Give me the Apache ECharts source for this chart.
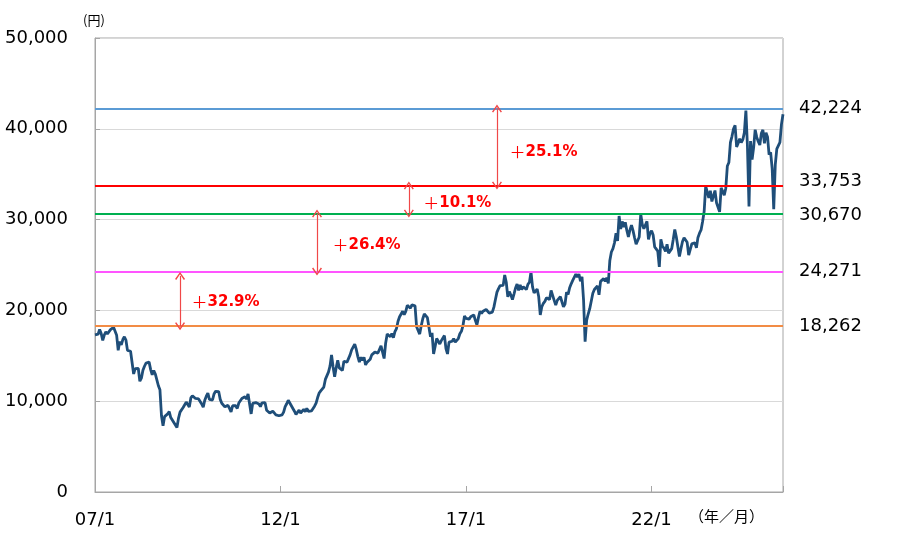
<!DOCTYPE html>
<html><head><meta charset="utf-8">
<script src="https://cdn.jsdelivr.net/npm/echarts@6/dist/echarts.min.js"></script>
<style>html,body{margin:0;padding:0;background:#fff}#c{width:900px;height:549px}</style>
</head><body><div id="c"></div>
<script>
// X axis: months since 2007/1 ; tick labels
const xTickLabels = {0: '07/1', 60: '12/1', 120: '17/1', 180: '22/1'};
const xUnit = '（年／月）';
const yUnit = '(円)';

// Nikkei-style index, semimonthly samples (16th, then 1st of next month)
const startValue = [17300];
const v2007 = [17400,17380,17900,17450,16700,17290,17650,17400,17600,17880,18000,18140,18230,17250,15600,16570,16200,16790,17100,16740,15600,15680,15500,15310];
const v2008 = [13000,13590,13600,13600,12200,12530,13400,13850,14200,14340,14300,13480,12900,13380,13000,13070,11700,11260,8400,7300,8300,8510,8600,8860];
const v2009 = [8200,7990,7650,7570,7100,8110,8800,8830,9300,9520,9900,9960,9350,10360,10600,10490,10300,10130,10250,10030,9700,9350,10100,10550];
const v2010 = [10900,10200,10000,10130,10800,11090,11200,11060,10200,9770,9900,9380,9400,9540,9200,8820,9500,9370,9500,9200,9800,9940,10300,10230];
const v2011 = [10500,10240,10800,10620,8600,9760,9600,9850,9650,9690,9400,9820,10000,9830,9000,8960,8700,8700,8900,8990,8500,8430,8400,8460];
const v2012 = [8500,8800,9400,9720,10100,10080,9500,9520,8900,8540,8600,9010,8700,8700,9100,8840,9200,8870,8700,8930,9100,9450,9800,10400];
const v2013 = [10900,11140,11300,11560,12400,12400,13200,13860,15100,13770,12700,13680,14500,13670,13700,13390,14400,14460,14300,14330,15100,15660,15800,16290];
const v2014 = [15700,14910,14300,14840,14500,14830,14000,14300,14100,14630,15100,15160,15400,15620,15300,15420,16100,16170,14700,16410,17400,17460,17100,17450];
const v2015 = [17000,17670,18000,18800,19300,19210,19900,19520,19900,20560,20600,20240,20600,20590,20500,18200,18100,17390,18300,19080,19600,19750,19200,19030];
const v2016 = [17100,17520,15200,16030,16900,16760,16300,16670,16600,17230,15800,15200,16500,16570,16600,16890,16500,16450,16900,17430,17700,18310,19400,19110];
const v2017 = [19100,19040,19300,19120,19500,18910,18400,19200,19900,19650,19900,20030,20100,19930,19700,19650,19800,20360,21200,22010,22400,22720,22700,22760];
const v2018 = [23900,23100,21500,22070,21700,21200,21800,22470,22900,22200,22800,22300,22600,22550,22300,22870,23100,24245,22600,21920,21800,22350,21500,19500];
const v2019 = [20400,20770,21000,21390,21500,21210,22200,22260,21100,20600,21100,21280,21500,21520,20400,20700,22000,21760,22500,22930,23300,23290,24000,23660];
const v2020 = [24000,23210,23700,21140,16550,18920,19600,20190,20100,21880,22300,22290,22700,21710,23200,23140,23500,23190,23600,22980,25500,26430,26800,27440];
const v2021 = [28500,27660,30400,28970,29800,29180,29700,28810,28100,28860,29400,28790,28000,27280,27500,28090,30600,29450,29000,28890,29800,27820,28500,28790];
const v2022 = [28300,27000,27100,26530,24800,27820,27100,26850,26500,27280,26300,26390,26800,27800,28900,28090,27900,25940,26800,27590,28000,27970,27500,26090];
const v2023 = [26100,27330,27500,27450,26900,28040,28500,28860,29800,30890,33700,33600,32400,33170,32000,32620,33200,31860,32000,30860,33500,33490,32700,33460];
const v2024 = [35900,36290,38500,39170,40000,40370,38000,38410,38900,38490,38800,39580,42000,38100,31460,38650,36600,37920,39900,39080,38600,38210,39500,39890];
const v2025 = [38400,39570,39100,37160,37400,35620,31140,36050,37800,37970,38500,40490];
const endValue = [41600];

// reference levels
const levelValues = [42224, 33753, 30670, 24271, 18262];

// rise arrows (x in months since 2007/1)
const arrowMonths = [27.5, 71.8, 101.5, 130];
const arrowFrom = [18262, 24271, 30670, 33753];
const arrowTo = [23800, 30670, 33753, 42224];
const gainLabels = ['32.9%', '26.4%', '10.1%', '25.1%'];
const gainLabelValues = [20930, 27200, 31830, 37445];

const allValues = [].concat(startValue, v2007, v2008, v2009, v2010, v2011, v2012, v2013, v2014,
  v2015, v2016, v2017, v2018, v2019, v2020, v2021, v2022, v2023, v2024, v2025, endValue);
const seriesData = allValues.map((v, i) => [i * 0.5, v]);
const xMax = (allValues.length - 1) * 0.5;

const levelColors = ['#5B9BD5', '#FF0000', '#00B050', '#FF55FF', '#F28C45'];
const levelLabelPad = [[0, 0, 0, 0], [0, 0, 8, 0], [4, 0, 0, 0], [0, 0, 0, 0], [0, 0, 0, 0]];
const fmt = v => Number(v).toLocaleString('en-US');
const FONT = 'DejaVu Sans, Verdana, sans-serif';

const chart = echarts.init(document.getElementById('c'), null, {renderer: 'canvas'});
chart.setOption({
  animation: false,
  backgroundColor: '#fff',
  grid: {left: 95, right: 117, top: 38, bottom: 57, show: true, borderColor: '#A6A6A6', borderWidth: 1},
  xAxis: {
    type: 'value', min: 0, max: xMax, interval: 60,
    axisLine: {lineStyle: {color: '#A6A6A6', width: 1}},
    axisTick: {inside: true, length: 6, lineStyle: {color: '#A6A6A6'}},
    splitLine: {show: false},
    axisLabel: {
      formatter: v => xTickLabels[v] || '',
      fontFamily: FONT, fontSize: 18, color: '#000', margin: 19
    }
  },
  yAxis: {
    type: 'value', min: 0, max: 50000, interval: 10000,
    axisLine: {show: true, lineStyle: {color: '#A6A6A6', width: 1}},
    axisTick: {show: true, inside: true, length: 5, lineStyle: {color: '#A6A6A6'}},
    splitLine: {show: true, lineStyle: {color: '#D9D9D9', width: 1}},
    axisLabel: {formatter: v => fmt(v), fontFamily: FONT, fontSize: 18, color: '#000', margin: 27}
  },
  graphic: [
    {type: 'text', left: 83, top: 14, style: {text: yUnit, font: '13px "Noto Sans CJK JP", sans-serif', fill: '#000'}},
    {type: 'text', left: 689, top: 509, style: {text: xUnit, font: '15px "Noto Sans CJK JP", sans-serif', fill: '#000'}}
  ],
  series: [
    {
      type: 'line', data: seriesData, showSymbol: false, symbol: 'none',
      lineStyle: {color: '#1F4E79', width: 2.8}, z: 3,
      markLine: {
        silent: true, symbol: 'none', animation: false,
        data: levelValues.map((v, i) => ({
          yAxis: v,
          lineStyle: {color: levelColors[i], width: 2, type: 'solid'},
          label: {
            show: true, position: 'end', distance: 16, formatter: '{a|' + fmt(v) + '}',
            rich: {a: {fontFamily: FONT, fontSize: 18, color: '#000', padding: levelLabelPad[i]}}
          }
        }))
      }
    },
    {
      type: 'line', data: [], z: 4,
      markLine: {
        silent: true, animation: false,
        symbol: ['path://M5,0 L10,8 L8.8,8.9 L5,2.6 L1.2,8.9 L0,8 Z', 'path://M5,0 L10,8 L8.8,8.9 L5,2.6 L1.2,8.9 L0,8 Z'],
        symbolSize: [10, 8],
        lineStyle: {color: '#F04848', width: 1.2, type: 'solid'},
        label: {show: false},
        data: arrowMonths.map((m, i) => [{coord: [m, arrowFrom[i]]}, {coord: [m, arrowTo[i]]}])
      },
      markPoint: {
        silent: true, animation: false, symbol: 'circle', symbolSize: 1,
        itemStyle: {color: 'rgba(0,0,0,0)'},
        data: arrowMonths.map((m, i) => ({
          coord: [m, gainLabelValues[i]],
          label: {
            show: true, position: 'right', distance: [11, 15, 14, 12][i],
            formatter: '{p|＋}{b|' + gainLabels[i] + '}',
            rich: {
              p: {fontFamily: '"Noto Sans CJK JP", sans-serif', fontSize: 16, color: '#FF0000'},
              b: {fontFamily: FONT, fontSize: 15, fontWeight: 'bold', color: '#FF0000'}
            }
          }
        }))
      }
    }
  ]
});
</script></body></html>
